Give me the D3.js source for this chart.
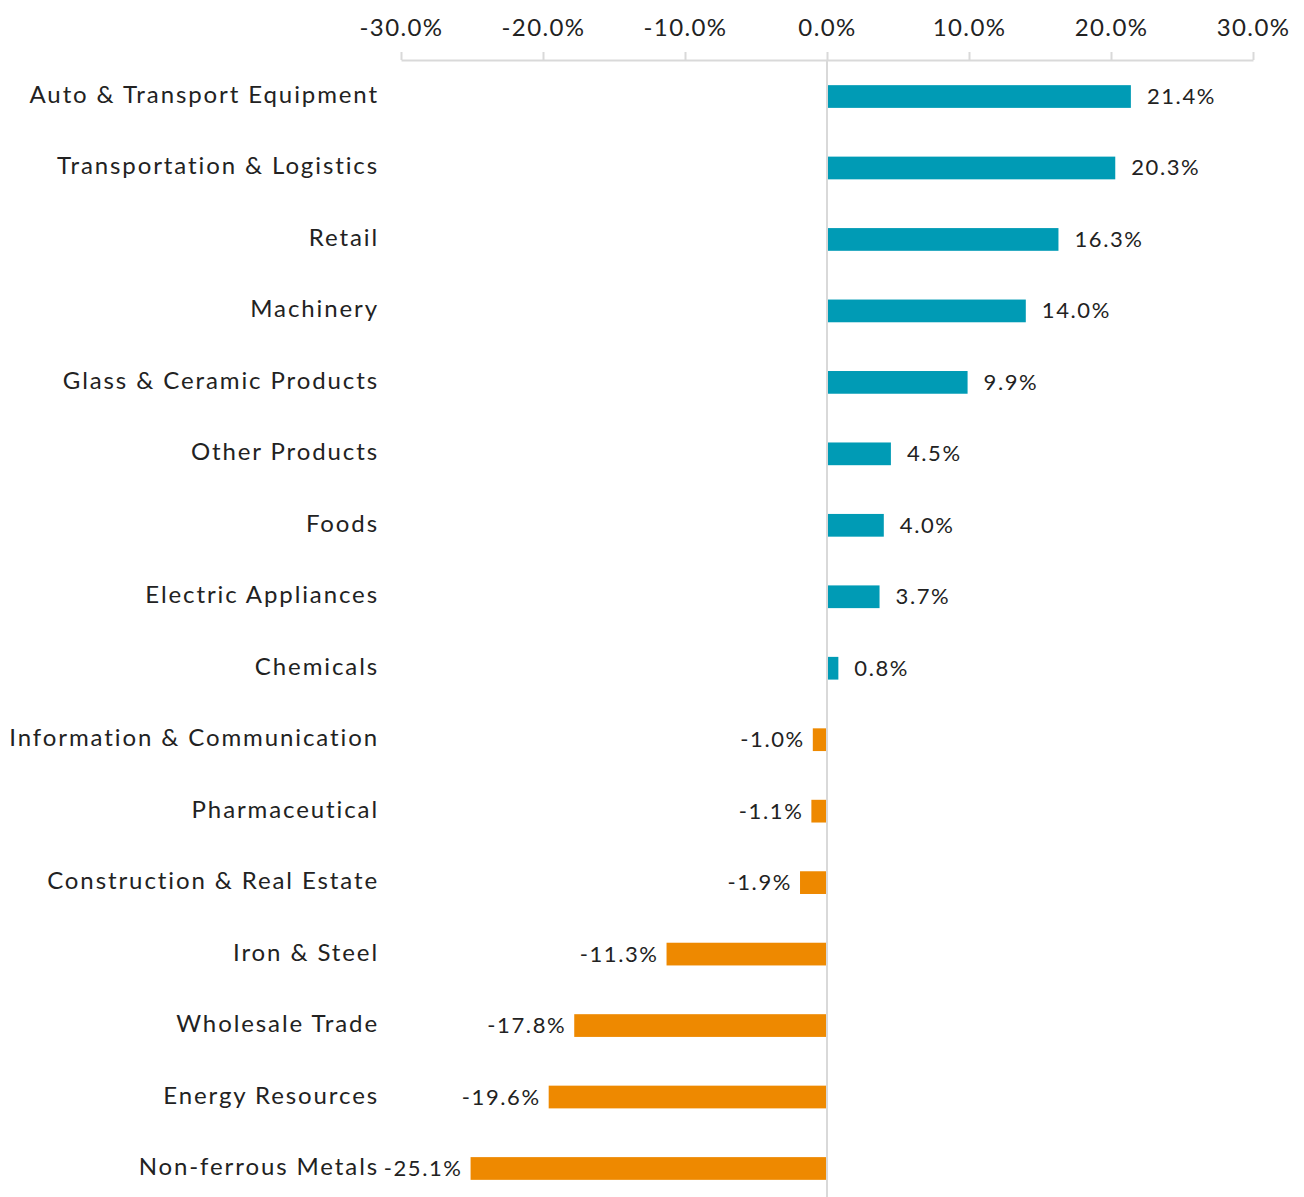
<!DOCTYPE html>
<html>
<head>
<meta charset="utf-8">
<script src="https://cdn.jsdelivr.net/npm/d3@7"></script>
<style>
  body { margin: 0; background: #fff; }
  text { font-family: Lato, "Noto Sans", sans-serif; font-weight: 400; fill: #222; }
</style>
</head>
<body>
<script>
var w = 1304;
var h = 1197;

var categories = ["Auto & Transport Equipment", "Transportation & Logistics", "Retail", "Machinery",
  "Glass & Ceramic Products", "Other Products", "Foods", "Electric Appliances", "Chemicals",
  "Information & Communication", "Pharmaceutical", "Construction & Real Estate", "Iron & Steel",
  "Wholesale Trade", "Energy Resources", "Non-ferrous Metals"];
var values = [21.4, 20.3, 16.3, 14.0, 9.9, 4.5, 4.0, 3.7, 0.8, -1.0, -1.1, -1.9, -11.3, -17.8, -19.6, -25.1];
var ticks = [-30, -20, -10, 0, 10, 20, 30];

var svg = d3.select("body").append("svg")
  .attr("width", w)
  .attr("height", h);

var xScale = d3.scaleLinear()
  .domain([-30, 30])
  .range([401, 1253]);

var yScale = d3.scaleBand()
  .domain(categories)
  .range([61, 1204])
  .paddingInner(0.682)
  .paddingOuter(0.338);

var fmt = function(d) { return d.toFixed(1) + "%"; };

// top axis
var xAxis = d3.axisTop(xScale)
  .tickValues(ticks)
  .tickFormat(fmt)
  .tickSize(8)
  .tickSizeOuter(0)
  .tickPadding(16);

var ax = svg.append("g")
  .attr("transform", "translate(0,60)")
  .call(xAxis);
ax.select(".domain").attr("stroke", "#d9d9d9").attr("stroke-width", 2);
ax.selectAll(".tick line").attr("stroke", "#d9d9d9").attr("stroke-width", 2);
ax.selectAll(".tick text")
  .style("font-size", "24px")
  .style("font-family", "Lato, 'Noto Sans', sans-serif")
  .style("letter-spacing", "1.4px")
  .attr("fill", "#222");

// bars
svg.append("g").selectAll("rect")
  .data(values)
  .enter()
  .append("rect")
  .attr("x", function(d) { return xScale(Math.min(0, d)); })
  .attr("y", function(d, i) { return yScale(categories[i]); })
  .attr("width", function(d) { return Math.abs(xScale(d) - xScale(0)); })
  .attr("height", yScale.bandwidth())
  .attr("fill", function(d) { return d >= 0 ? "#009bb5" : "#ee8900"; });

// zero line
svg.append("line")
  .attr("x1", xScale(0))
  .attr("x2", xScale(0))
  .attr("y1", 60)
  .attr("y2", h)
  .attr("stroke", "#d9d9d9")
  .attr("stroke-width", 2);

// category labels
svg.append("g").selectAll("text")
  .data(categories)
  .enter()
  .append("text")
  .attr("x", 379)
  .attr("y", function(d) { return yScale(d) + yScale.bandwidth() / 2 + 6.5; })
  .attr("text-anchor", "end")
  .style("font-size", "24px")
  .style("letter-spacing", "1.9px")
  .text(function(d) { return d; });

// value labels
svg.append("g").selectAll("text")
  .data(values)
  .enter()
  .append("text")
  .attr("x", function(d) { return d >= 0 ? xScale(d) + 16 : xScale(d) - 8; })
  .attr("y", function(d, i) { return yScale(categories[i]) + yScale.bandwidth() / 2 + 7.5; })
  .attr("text-anchor", function(d) { return d >= 0 ? "start" : "end"; })
  .style("font-size", "22px")
  .style("letter-spacing", "1.6px")
  .text(fmt);
</script>
</body>
</html>
